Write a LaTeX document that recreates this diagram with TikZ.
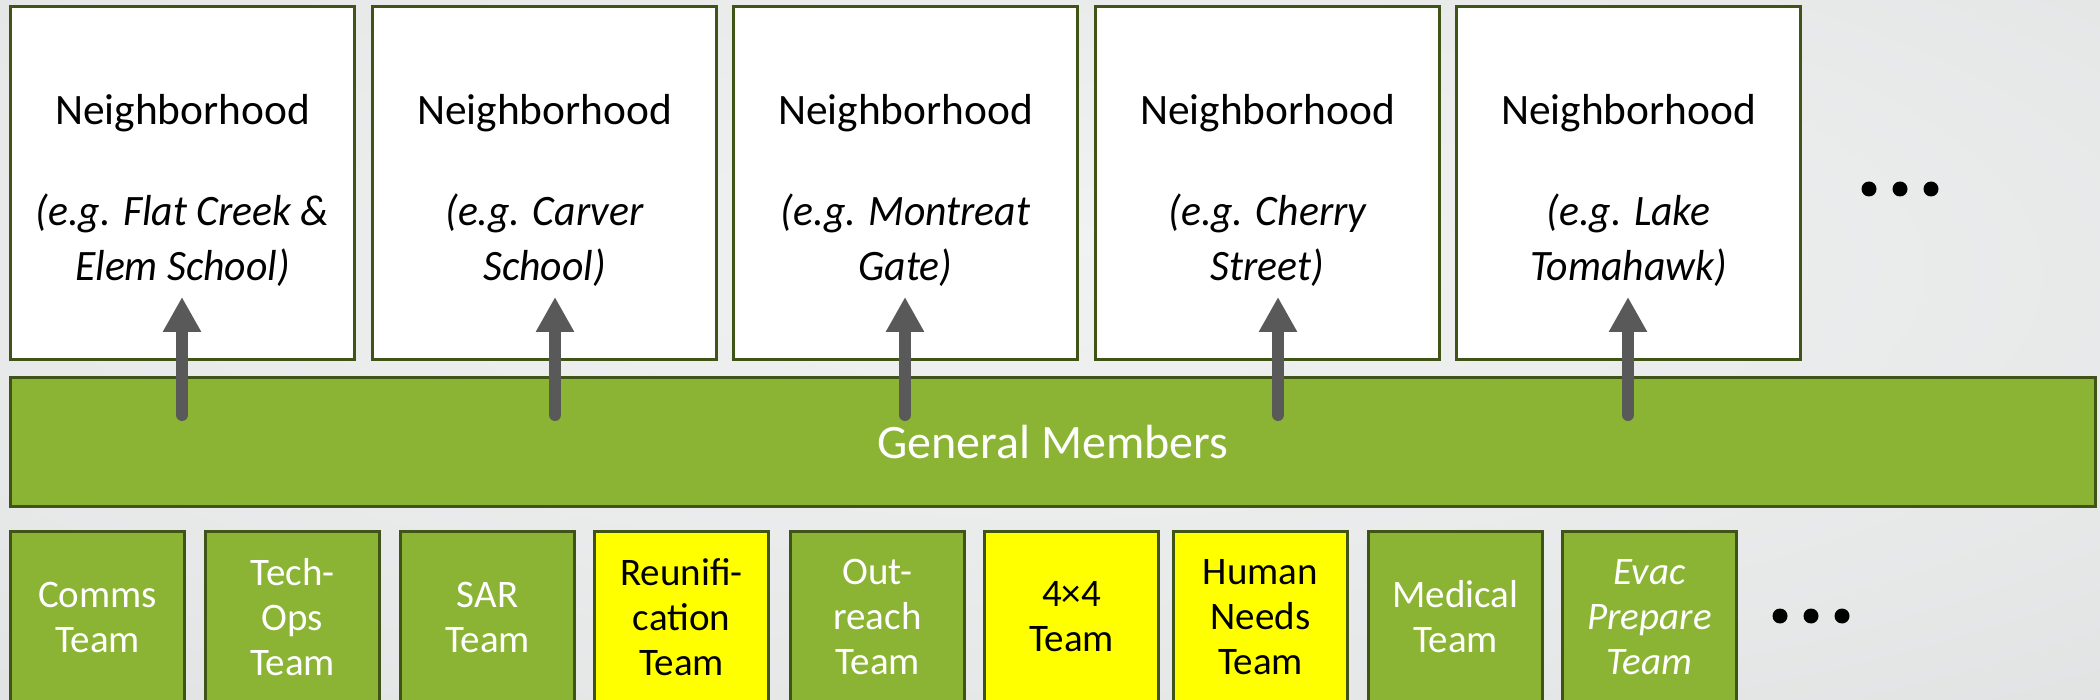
\documentclass[tikz,border=0pt]{standalone}
\usepackage{fontspec}
\usepackage{graphicx}
\setmainfont{Carlito}
\usetikzlibrary{arrows.meta}
\definecolor{teamgreen}{HTML}{8BB334}
\definecolor{olivedark}{HTML}{3F5416}
\definecolor{arrowgray}{HTML}{595959}
\definecolor{bglight}{HTML}{F1F2F2}
\definecolor{bgdark}{HTML}{CDD0D1}
\definecolor{teamyellow}{HTML}{FFFF00}
\pgfdeclareradialshading{bgshade}{\pgfpoint{0bp}{8bp}}{color(0bp)=(bglight); color(30bp)=(bglight!70!bgdark); color(72bp)=(bgdark)}
\newcommand{\egline}[1]{\scalebox{0.96}[1]{\itshape #1}}
\newcommand{\nbhead}{\rule{0pt}{22.5pt}Neighborhood\\[23pt]}
\begin{document}
\begin{tikzpicture}[x=0.5pt,y=-0.5pt,
  nbox/.style={draw=olivedark, line width=1.5pt, fill=white, minimum width=172pt,
    minimum height=176.5pt, inner sep=0pt, align=center, text=black,
    font=\fontsize{21.7pt}{27.5pt}\selectfont},
  genbar/.style={draw=olivedark, line width=1.5pt, fill=teamgreen, minimum width=1042.5pt,
    minimum height=64.5pt, inner sep=0pt, text=white, font=\fontsize{24pt}{29pt}\selectfont},
  teambox/.style={draw=olivedark, line width=1.5pt, fill=teamgreen, minimum width=87pt,
    minimum height=85.5pt, inner sep=0pt, align=center, text=white,
    font=\fontsize{19.5pt}{22.5pt}\selectfont},
  yellowbox/.style={teambox, fill=teamyellow, text=black},
  uparrow/.style={draw=arrowgray, line width=6pt, line cap=round,
    -{Triangle[width=18pt,length=17.5pt]}},
  dotmark/.style={circle, fill=black, minimum size=7.5pt, inner sep=0pt}
]
\useasboundingbox (0,0) rectangle (2100,700);
\clip (0,0) rectangle (2100,700);
\shade[shading=bgshade] (0,0) rectangle (2100,700);

% neighborhood boxes
\node[nbox] (n1) at (182.5,183) {\nbhead\egline{(e.g. Flat Creek \&}\\\egline{Elem School)}};
\node[nbox] (n2) at (544.5,183) {\nbhead\egline{(e.g. Carver}\\\egline{School)}};
\node[nbox] (n3) at (905.5,183) {\nbhead\egline{(e.g. Montreat}\\\egline{Gate)}};
\node[nbox] (n4) at (1267.5,183) {\nbhead\egline{(e.g. Cherry}\\\egline{Street)}};
\node[nbox] (n5) at (1628.5,183) {\nbhead\egline{(e.g. Lake}\\\egline{Tomahawk)}};

\node[dotmark] (td1) at (1869,189) {};
\node[dotmark] (td2) at (1900,189) {};
\node[dotmark] (td3) at (1931,189) {};

% general members bar
\node[genbar] (gm) at (1053,442) {\raisebox{-1pt}{General Members}};

% teams
\node[teambox] (t1) at (97.5,617) {Comms\\Team};
\node[teambox] (t2) at (292.5,617) {Tech-\\Ops\\Team};
\node[teambox] (t3) at (487.5,617) {SAR\\Team};
\node[yellowbox] (t4) at (681.5,617) {Reunifi-\\cation\\Team};
\node[teambox] (t5) at (877.5,617) {Out-\\reach\\Team};
\node[yellowbox] (t6) at (1071.5,617) {4×4\\Team};
\node[yellowbox] (t7) at (1260.5,617) {Human\\Needs\\Team};
\node[teambox] (t8) at (1455.5,617) {Medical\\Team};
\node[teambox] (t9) at (1649.5,617) {\textit{Evac}\\\textit{Prepare}\\\textit{Team}};

\node[dotmark] (bd1) at (1780,616) {};
\node[dotmark] (bd2) at (1811,616) {};
\node[dotmark] (bd3) at (1842,616) {};

% arrows from General Members up into neighborhoods
\coordinate (s1) at (182,415);  \coordinate (e1) at (182,297);
\coordinate (s2) at (555,415);  \coordinate (e2) at (555,297);
\coordinate (s3) at (905,415);  \coordinate (e3) at (905,297);
\coordinate (s4) at (1278,415); \coordinate (e4) at (1278,297);
\coordinate (s5) at (1628,415); \coordinate (e5) at (1628,297);
\draw[uparrow] (s1) -- (e1);
\draw[uparrow] (s2) -- (e2);
\draw[uparrow] (s3) -- (e3);
\draw[uparrow] (s4) -- (e4);
\draw[uparrow] (s5) -- (e5);
\end{tikzpicture}
\end{document}
